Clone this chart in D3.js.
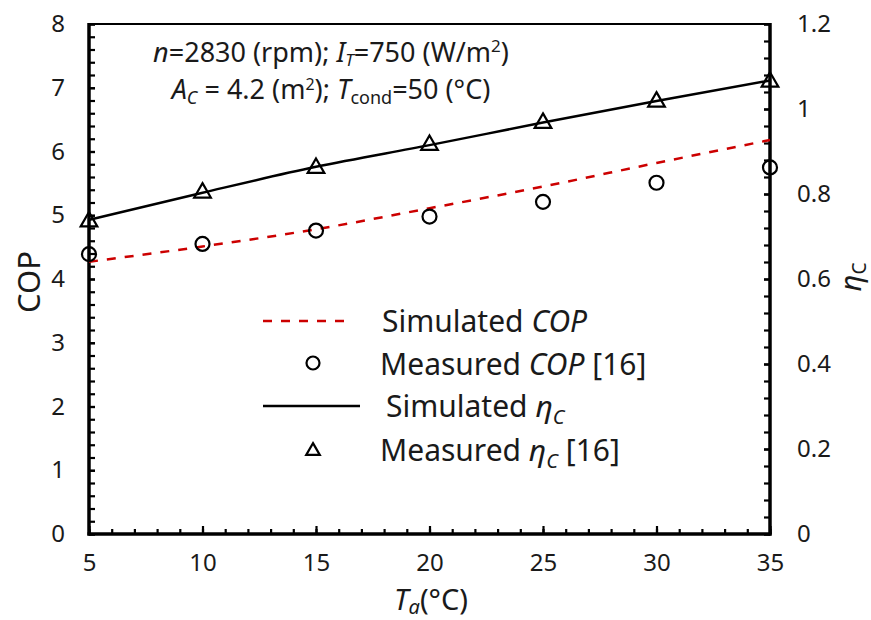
<html>
<head>
<meta charset="utf-8">
<title>COP and collector efficiency vs ambient temperature</title>
<style>
body { margin: 0; background: #fff; }
svg text { font-family: "Noto Sans", sans-serif; fill: #1a1a1a; }
</style>
<script src="https://d3js.org/d3.v7.min.js"></script>
</head>
<body>
<div id="chart"></div>
<script>
// ambient temperature (°C)
var temps = [5, 10, 15, 20, 25, 30, 35];
// left axis: COP
var simCOP = [4.27, 4.51, 4.78, 5.11, 5.45, 5.82, 6.18];
var measCOP = [4.39, 4.55, 4.76, 4.98, 5.21, 5.51, 5.75];
// right axis: collector efficiency
var simEta = [0.739, 0.803, 0.864, 0.915, 0.968, 1.019, 1.067];
var measEta = [0.735, 0.803, 0.861, 0.915, 0.967, 1.017, 1.064];
// tick labels
var xTicks = [5, 10, 15, 20, 25, 30, 35];
var copTicks = [0, 1, 2, 3, 4, 5, 6, 7, 8];
var etaTicks = [0, 0.2, 0.4, 0.6, 0.8, 1.0, 1.2];

var W = 871, H = 620;
// plot box (window.top is reserved, so prefixed names)
var pLeft = 89, pRight = 770, pTop = 24, pBottom = 534;

var svg = d3.select("#chart").append("svg")
    .attr("width", W).attr("height", H);

var x = d3.scaleLinear().domain([5, 35]).range([pLeft, pRight]);
var yL = d3.scaleLinear().domain([0, 8]).range([pBottom, pTop]);
var yR = d3.scaleLinear().domain([0, 1.2]).range([pBottom, pTop]);

// minor ticks
var xMinor = d3.range(5, 35.01, 1);
var yLMinor = d3.range(0, 8.001, 0.2);
var yRMinor = d3.range(0, 1.2001, 0.04);

function styleAxis(g, fs) {
    g.select(".domain").remove();
    g.selectAll(".tick line").attr("stroke", "#000").attr("stroke-width", 2.2);
    g.selectAll("text").attr("font-size", fs).attr("fill", "#1a1a1a")
        .style("font-family", "'Noto Sans', sans-serif");
}

// x axis (ticks pointing inward)
svg.append("g").attr("transform", "translate(0," + pBottom + ")")
    .call(d3.axisBottom(x).tickValues(xMinor).tickSize(-5).tickFormat(""))
    .call(styleAxis, 24);
svg.append("g").attr("transform", "translate(0," + pBottom + ")")
    .call(d3.axisBottom(x).tickValues(xTicks).tickSize(-8).tickPadding(20).tickFormat(d3.format("d")))
    .call(styleAxis, 24);

// left axis
svg.append("g").attr("transform", "translate(" + pLeft + ",0)")
    .call(d3.axisLeft(yL).tickValues(yLMinor).tickSize(-6).tickFormat(""))
    .call(styleAxis, 24);
svg.append("g").attr("transform", "translate(" + pLeft + ",0)")
    .call(d3.axisLeft(yL).tickValues(copTicks).tickSize(-6).tickPadding(24).tickFormat(d3.format("d")))
    .call(styleAxis, 24);

// right axis
svg.append("g").attr("transform", "translate(" + pRight + ",0)")
    .call(d3.axisRight(yR).tickValues(yRMinor).tickSize(-6).tickFormat(""))
    .call(styleAxis, 24);
svg.append("g").attr("transform", "translate(" + pRight + ",0)")
    .call(d3.axisRight(yR).tickValues(etaTicks).tickSize(-6).tickPadding(27)
        .tickFormat(function(d) { return d3.format("~g")(d); }))
    .call(styleAxis, 24);

// frame
svg.append("line").attr("x1", pLeft).attr("x2", pRight).attr("y1", pTop).attr("y2", pTop)
    .attr("stroke", "#000").attr("stroke-width", 2.2);
svg.append("line").attr("x1", pLeft).attr("x2", pLeft).attr("y1", pTop - 1).attr("y2", pBottom + 1.5)
    .attr("stroke", "#000").attr("stroke-width", 3.5);
svg.append("line").attr("x1", pRight).attr("x2", pRight).attr("y1", pTop - 1).attr("y2", pBottom + 1.5)
    .attr("stroke", "#000").attr("stroke-width", 3.5);
svg.append("line").attr("x1", pLeft - 1.5).attr("x2", pRight + 1.5).attr("y1", pBottom).attr("y2", pBottom)
    .attr("stroke", "#000").attr("stroke-width", 3.5);

// lines
var copLine = d3.line().x(function(d, i) { return x(temps[i]); })
    .y(function(d) { return yL(d); }).curve(d3.curveMonotoneX);
var etaLine = d3.line().x(function(d, i) { return x(temps[i]); })
    .y(function(d) { return yR(d); }).curve(d3.curveMonotoneX);

svg.append("path").datum(simCOP).attr("d", copLine)
    .attr("fill", "none").attr("stroke", "#cc0000").attr("stroke-width", 2.5)
    .attr("stroke-dasharray", "9,9");
svg.append("path").datum(simEta).attr("d", etaLine)
    .attr("fill", "none").attr("stroke", "#000").attr("stroke-width", 2.5);

// measured points
svg.selectAll(".mcop").data(measCOP).enter().append("circle")
    .attr("cx", function(d, i) { return x(temps[i]); })
    .attr("cy", function(d) { return yL(d); })
    .attr("r", 7).attr("fill", "none").attr("stroke", "#000").attr("stroke-width", 2.2);

var tri = d3.symbol().type(d3.symbolTriangle).size(120);
svg.selectAll(".meta").data(measEta).enter().append("path")
    .attr("d", tri)
    .attr("transform", function(d, i) { return "translate(" + x(temps[i]) + "," + yR(d) + ")"; })
    .attr("fill", "none").attr("stroke", "#000").attr("stroke-width", 2.2);

// annotation
var ann = svg.append("text").attr("x", 331).attr("y", 62).attr("text-anchor", "middle").attr("font-size", 27);
ann.append("tspan").attr("font-style", "italic").text("n");
ann.append("tspan").text("=2830 (rpm); ");
ann.append("tspan").attr("font-style", "italic").text("I");
ann.append("tspan").attr("font-style", "italic").attr("font-size", 17).attr("dy", 4).text("T");
ann.append("tspan").attr("dy", -4).text("=750 (W/m");
ann.append("tspan").attr("font-size", 17).attr("dy", -10).text("2");
ann.append("tspan").attr("dy", 10).text(")");

var ann2 = svg.append("text").attr("x", 331).attr("y", 99).attr("text-anchor", "middle").attr("font-size", 27);
ann2.append("tspan").attr("font-style", "italic").text("A");
ann2.append("tspan").attr("font-style", "italic").attr("font-size", 18).attr("dy", 5).text("C");
ann2.append("tspan").attr("dy", -5).text(" = 4.2 (m");
ann2.append("tspan").attr("font-size", 16).attr("dy", -9).text("2");
ann2.append("tspan").attr("dy", 9).text("); ");
ann2.append("tspan").attr("font-style", "italic").text("T");
ann2.append("tspan").attr("font-size", 18).attr("dy", 5).text("cond");
ann2.append("tspan").attr("dy", -5).text("=50 (°C)");

// axis titles
svg.append("text").attr("transform", "translate(40,282) rotate(-90)")
    .attr("text-anchor", "middle").attr("font-size", 31).text("COP");

var etaT = svg.append("text").attr("transform", "translate(861,277) rotate(-90)")
    .attr("text-anchor", "middle").attr("font-size", 29);
etaT.append("tspan").attr("font-style", "italic").text("η");
etaT.append("tspan").attr("font-size", 19).attr("dy", 5).text("C");

var xT = svg.append("text").attr("x", 431).attr("y", 610).attr("text-anchor", "middle").attr("font-size", 29);
xT.append("tspan").attr("font-style", "italic").text("T");
xT.append("tspan").attr("font-style", "italic").attr("font-size", 20).attr("dy", 4).text("a");
xT.append("tspan").attr("dy", -4).text("(°C)");

// legend
var lg = svg.append("g");
lg.append("line").attr("x1", 263).attr("x2", 350).attr("y1", 321).attr("y2", 321)
    .attr("stroke", "#cc0000").attr("stroke-width", 2.5).attr("stroke-dasharray", "9,9");
lg.append("circle").attr("cx", 313).attr("cy", 363).attr("r", 6.5)
    .attr("fill", "none").attr("stroke", "#000").attr("stroke-width", 2.2);
lg.append("line").attr("x1", 263).attr("x2", 360).attr("y1", 406).attr("y2", 406)
    .attr("stroke", "#000").attr("stroke-width", 2.5);
lg.append("path").attr("d", d3.symbol().type(d3.symbolTriangle).size(80))
    .attr("transform", "translate(313,451)")
    .attr("fill", "none").attr("stroke", "#000").attr("stroke-width", 2.2);

function legendText(xp, yp, parts) {
    var t = lg.append("text").attr("x", xp).attr("y", yp).attr("font-size", 30);
    parts.forEach(function(p) {
        var s = t.append("tspan").text(p.t);
        if (p.i) s.attr("font-style", "italic");
        if (p.sub) s.attr("font-size", 20).attr("dy", 7);
        if (p.up) s.attr("dy", -7);
    });
}
legendText(382, 332, [{t: "Simulated "}, {t: "COP", i: true}]);
legendText(380, 375, [{t: "Measured "}, {t: "COP", i: true}, {t: " [16]"}]);
legendText(386, 417, [{t: "Simulated "}, {t: "η", i: true}, {t: "C", i: true, sub: true}]);
legendText(380, 461, [{t: "Measured "}, {t: "η", i: true}, {t: "C", i: true, sub: true}, {t: " [16]", up: true}]);
</script>
</body>
</html>
